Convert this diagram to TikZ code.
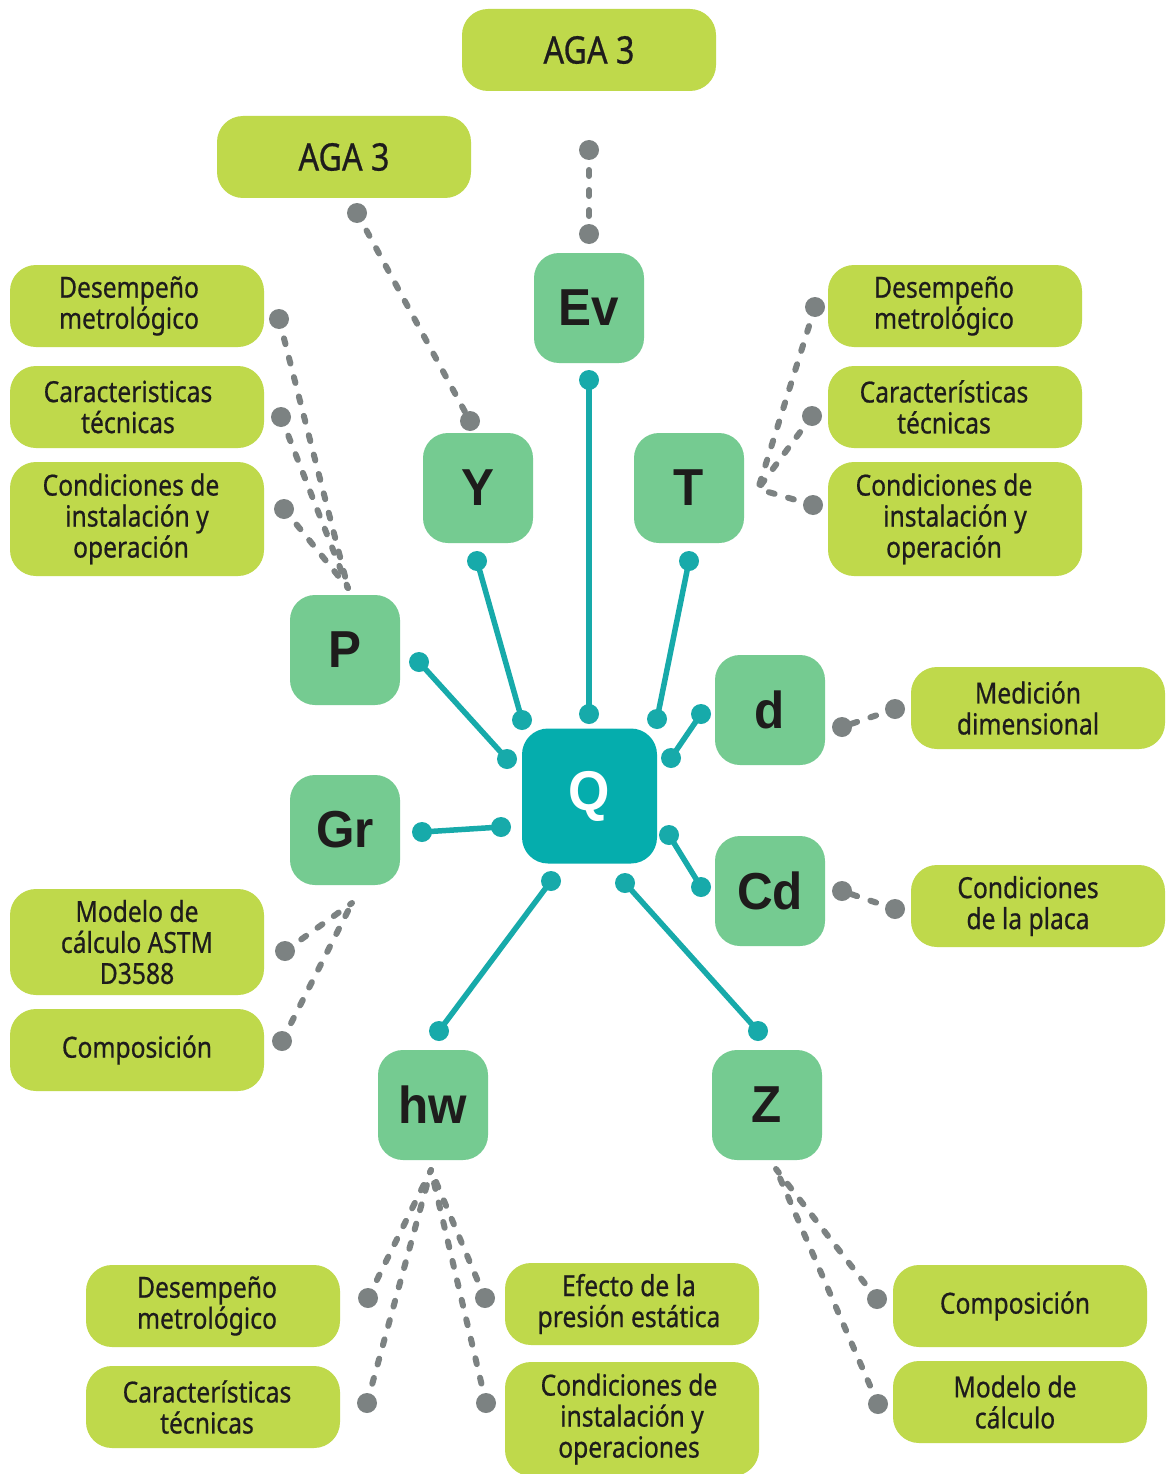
\documentclass[tikz,border=0pt]{standalone}
\usepackage{fontspec}
\setmainfont{Noto Sans}[FakeStretch=0.85, FakeBold=0.6]
\newfontfamily\labelfont{Liberation Sans}[FakeStretch=0.95]
\definecolor{limec}{HTML}{BFD94B}
\definecolor{greenc}{HTML}{75CB91}
\definecolor{qc}{HTML}{05ADAD}
\definecolor{tealc}{HTML}{17AAAA}
\definecolor{greyc}{HTML}{7C8282}
\definecolor{txt}{HTML}{1E1C1C}
\begin{document}
\begin{tikzpicture}[x=1pt,y=-1pt,
  lime/.style={fill=limec, rounded corners=26pt, minimum width=254pt, minimum height=82pt,
    inner sep=0pt, align=center, text=txt, font=\fontsize{29}{31}\selectfont},
  agabox/.style={lime, font=\fontsize{38}{40}\selectfont},
  gbox/.style={fill=greenc, rounded corners=25pt, minimum size=110pt, inner sep=0pt,
    text=txt, font=\labelfont\bfseries\fontsize{52}{52}\selectfont},
  qbox/.style={fill=qc, rounded corners=26pt, minimum size=135pt, inner sep=0pt,
    text=white, font=\labelfont\bfseries\fontsize{56}{56}\selectfont},
  tdot/.style={circle, fill=tealc, minimum size=20pt, inner sep=0pt},
  gdot/.style={circle, fill=greyc, minimum size=20pt, inner sep=0pt},
  tline/.style={draw=tealc, line width=5.5pt},
  gline/.style={draw=greyc, line width=6pt, line cap=round, dash pattern=on 6pt off 14pt}]
\useasboundingbox[fill=white] (0,0) rectangle (1165,1474);

% lime boxes
\node[agabox] (aga1) at (589,50) {AGA 3};
\node[agabox] (aga2) at (344,157) {AGA 3};
\node[lime] (l1) at (137,306) {Desempeño\hspace*{16pt}\\metrológico\hspace*{16pt}};
\node[lime] (l2) at (137,407) {Caracteristicas\hspace*{18pt}\\técnicas\hspace*{18pt}};
\node[lime, minimum height=114pt] (l3) at (137,519) {Condiciones de\hspace*{12pt}\\instalación y\hspace*{12pt}\\operación\hspace*{12pt}};
\node[lime, minimum height=106pt] (l4) at (137,942) {Modelo de\\cálculo ASTM\\D3588};
\node[lime] (l5) at (137,1050) {Composición};
\node[lime] (r1) at (955,306) {Desempeño\hspace*{22pt}\\metrológico\hspace*{22pt}};
\node[lime] (r2) at (955,407) {Características\hspace*{22pt}\\técnicas\hspace*{22pt}};
\node[lime, minimum height=114pt] (r3) at (955,519) {Condiciones de\hspace*{22pt}\\instalación y\hspace*{22pt}\\operación\hspace*{22pt}};
\node[lime] (m1) at (1038,708) {Medición\hspace*{20pt}\\dimensional\hspace*{20pt}};
\node[lime] (m2) at (1038,906) {Condiciones\hspace*{20pt}\\de la placa\hspace*{20pt}};
\node[lime] (b1) at (213,1306) {Desempeño\hspace*{12pt}\\metrológico\hspace*{12pt}};
\node[lime] (b2) at (213,1407) {Características\hspace*{12pt}\\técnicas\hspace*{12pt}};
\node[lime] (b3) at (632,1304) {Efecto de la\hspace*{6pt}\\presión estática\hspace*{6pt}};
\node[lime, minimum height=114pt] (b4) at (632,1419) {Condiciones de\hspace*{6pt}\\instalación y\hspace*{6pt}\\operaciones\hspace*{6pt}};
\node[lime] (b5) at (1020,1306) {Composición\hspace*{10pt}};
\node[lime] (b6) at (1020,1402) {Modelo de\hspace*{10pt}\\cálculo\hspace*{10pt}};

% green boxes
\node[gbox] (Ev) at (589,308) {Ev};
\node[gbox] (Y) at (478,488) {Y};
\node[gbox] (T) at (689,488) {T};
\node[gbox] (P) at (345,650) {P};
\node[gbox] (d) at (770,710) {d};
\node[gbox] (Gr) at (345,830) {Gr};
\node[gbox] (Cd) at (770,891) {Cd};
\node[gbox] (hw) at (433,1105) {hw};
\node[gbox] (Z) at (767,1105) {Z};
\node[qbox] (Q) at (589.5,796) {Q};

% teal connectors
\foreach \n/\ax/\ay/\bx/\by in {ev/589/380/589/714, y/477/561/522/720, t/689/561/657/719,
  p/419/662/507/759, d/701/714/671/758, gr/422/832/501/827, cd/669/835/701/887,
  hw/551/881/439/1031, z/625/883/758/1031}{
  \node[tdot] (\n A) at (\ax,\ay) {};
  \node[tdot] (\n B) at (\bx,\by) {};
  \draw[tline] (\n A.center) -- (\n B.center);
}

% grey dashed connectors
\coordinate (pc) at (348,588);
\coordinate (tc) at (758,489);
\coordinate (gc) at (352,903);
\coordinate (hc) at (431,1170);
\coordinate (zc) at (776,1169);

\node[gdot] (a1a) at (589,150) {};
\node[gdot] (a1b) at (589,234) {};
\draw[gline] (a1a.center) -- (a1b.center);
\node[gdot] (a2a) at (357,213) {};
\node[gdot] (a2b) at (470,421) {};
\draw[gline] (a2a.center) -- (a2b.center);

\node[gdot] (pl1) at (279,319) {};
\node[gdot] (pl2) at (281,417) {};
\node[gdot] (pl3) at (284,509) {};
\foreach \k in {pl1,pl2,pl3} \draw[gline] (\k.center) -- (pc);

\node[gdot] (tr1) at (815,307) {};
\node[gdot] (tr2) at (812,416) {};
\node[gdot] (tr3) at (813,505) {};
\foreach \k in {tr1,tr2,tr3} \draw[gline] (\k.center) -- (tc);

\node[gdot] (da) at (842,727) {};
\node[gdot] (db) at (895,709) {};
\draw[gline] (db.center) -- (da.center);
\node[gdot] (ca) at (842,891) {};
\node[gdot] (cb) at (895,909) {};
\draw[gline] (cb.center) -- (ca.center);

\node[gdot] (gl1) at (285,951) {};
\node[gdot] (gl2) at (282,1041) {};
\foreach \k in {gl1,gl2} \draw[gline] (\k.center) -- (gc);

\node[gdot] (hb1) at (368,1298) {};
\node[gdot] (hb2) at (367,1403) {};
\node[gdot] (hb3) at (485,1298) {};
\node[gdot] (hb4) at (486,1403) {};
\foreach \k in {hb1,hb2,hb3,hb4} \draw[gline] (\k.center) -- (hc);

\node[gdot] (zb1) at (877,1299) {};
\node[gdot] (zb2) at (878,1404) {};
\foreach \k in {zb1,zb2} \draw[gline] (\k.center) -- (zc);
\end{tikzpicture}
\end{document}
